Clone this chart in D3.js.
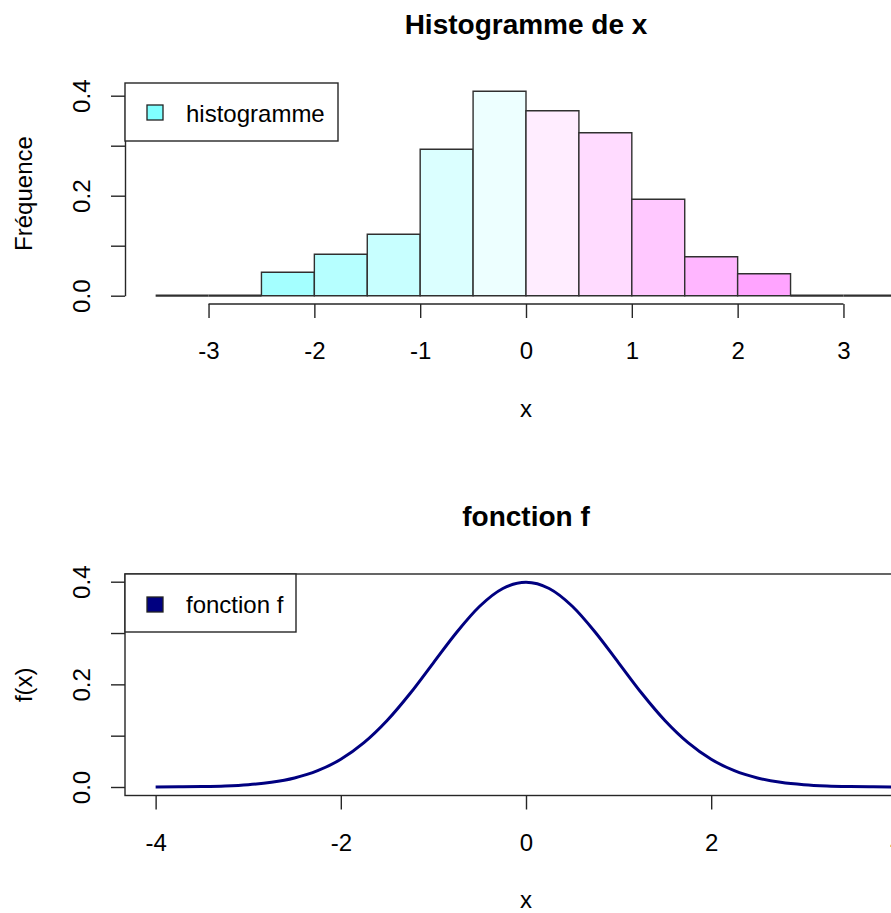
<!DOCTYPE html>
<html><head><meta charset="utf-8">
<script src="https://cdn.jsdelivr.net/npm/d3@7"></script>
<style>
body{margin:0;background:#fff}
svg{display:block}
text{font-family:"Liberation Sans",Arial,sans-serif;fill:#000}
</style>
</head><body>
<svg id="c" width="891" height="913"></svg>
<script>
// ---------- data ----------
const histBreaks  = [-3.5,-3,-2.5,-2,-1.5,-1,-0.5,0,0.5,1,1.5,2,2.5,3,3.5];
const histDensity = [0,0,0.047,0.083,0.123,0.293,0.409,0.370,0.326,0.193,0.078,0.044,0,0];
const histColors  = ["#80FFFF","#92FFFF","#A4FFFF","#B6FFFF","#C8FFFF","#DBFFFF","#EDFFFF",
                     "#FFEDFF","#FFDBFF","#FFC8FF","#FFB6FF","#FFA4FF","#FF92FF","#FF80FF"];
const histXTicks  = [-3,-2,-1,0,1,2,3];
const yTicks      = [0,0.1,0.2,0.3,0.4];
const yTickLabels = ["0.0","","0.2","","0.4"];
const fX = [-4,-3.75,-3.5,-3.25,-3,-2.75,-2.5,-2.25,-2,-1.75,-1.5,-1.25,-1,-0.75,-0.5,-0.25,
            0,0.25,0.5,0.75,1,1.25,1.5,1.75,2,2.25,2.5,2.75,3,3.25,3.5,3.75,4];
const fY = [0.0001,0.0004,0.0009,0.002,0.0044,0.0091,0.0175,0.0317,0.054,0.0863,0.1295,0.1826,0.242,0.3011,0.3521,0.3867,
            0.3989,0.3867,0.3521,0.3011,0.242,0.1826,0.1295,0.0863,0.054,0.0317,0.0175,0.0091,0.0044,0.002,0.0009,0.0004,0.0001];
const fXTicks = [-4,-2,0,2,4];
const titles = ["Histogramme de x","fonction f"];
const xLabel = "x";
const yLabels = ["Fréquence","f(x)"];
const legendLabels = ["histogramme","fonction f"];
const lineColor = "#000080";

// ---------- layout ----------
const svg = d3.select("#c");
const FONT = '"Liberation Sans",Arial,sans-serif';
const AX = "#262626";
const plotL = 126, plotR = 926, cx = (plotL+plotR)/2;

function styleAxis(g){
  g.attr("font-size",24).attr("font-family",FONT);
  g.selectAll(".tick line").attr("stroke",AX).attr("stroke-width",1.4);
  g.selectAll(".tick text").attr("fill","#000");
}

// ===== Top: histogram =====
const x1 = d3.scaleLinear().domain([-3.78,3.78]).range([plotL,plotR]);
const y1 = d3.scaleLinear().domain([0,0.4]).range([295.7,95.7]);
const top1 = 83, bot1 = 304;

const bins = histDensity.map((d,i)=>({x0:histBreaks[i],x1:histBreaks[i+1],d,c:histColors[i]}));
svg.append("g").selectAll("path").data(bins).join("path")
  .attr("d",b=>`M${x1(b.x0)},${y1(0)}V${y1(b.d)}H${x1(b.x1)}V${y1(0)}Z`)
  .attr("fill",b=>b.c)
  .attr("stroke","#303030")
  .attr("stroke-width",b=>b.d===0?2.2:1.4);

// x axis
const gx1 = svg.append("g").attr("transform",`translate(0,${bot1})`)
  .call(d3.axisBottom(x1).tickValues(histXTicks).tickSize(14).tickPadding(24).tickFormat(d=>String(d)));
gx1.select(".domain").remove();
styleAxis(gx1);
gx1.append("line").attr("x1",x1(histXTicks[0])).attr("x2",x1(histXTicks[histXTicks.length-1]))
  .attr("stroke",AX).attr("stroke-width",1.4);

// y axis
const gy1 = svg.append("g").attr("transform",`translate(125,0)`)
  .call(d3.axisLeft(y1).tickValues(yTicks).tickSize(14).tickSizeOuter(0).tickFormat((d,i)=>yTickLabels[i]));
gy1.select(".domain").attr("stroke",AX).attr("stroke-width",1.4);
styleAxis(gy1);
gy1.selectAll(".tick text").attr("transform","rotate(-90)").attr("x",0).attr("y",-35)
  .attr("dy",null).attr("text-anchor","middle");

// title & labels
svg.append("text").attr("x",cx).attr("y",34).attr("text-anchor","middle")
  .attr("font-size",28).attr("font-weight","bold").text(titles[0]);
svg.append("text").attr("x",cx).attr("y",417).attr("text-anchor","middle").attr("font-size",24).text(xLabel);
svg.append("text").attr("transform",`translate(32,${(top1+bot1)/2}) rotate(-90)`).attr("text-anchor","middle")
  .attr("font-size",24).text(yLabels[0]);

// legend
const lg1 = svg.append("g");
lg1.append("rect").attr("x",125).attr("y",top1).attr("width",213).attr("height",58)
  .attr("fill","#fff").attr("stroke",AX).attr("stroke-width",1.4);
lg1.append("rect").attr("x",147).attr("y",105).attr("width",16).attr("height",15)
  .attr("fill",histColors[0]).attr("stroke","#222").attr("stroke-width",1.3);
lg1.append("text").attr("x",186).attr("y",122).attr("font-size",24).text(legendLabels[0]);

// ===== Bottom: function =====
const x2 = d3.scaleLinear().domain([-4.32,4.32]).range([plotL,plotR]);
const y2 = d3.scaleLinear().domain([0,0.4]).range([787,581.7]);
const top2 = 574, bot2 = 795.5;

svg.append("path").datum(fX.map((v,i)=>[v,fY[i]]))
  .attr("d",d3.line().x(d=>x2(d[0])).y(d=>y2(d[1])).curve(d3.curveMonotoneX))
  .attr("fill","none").attr("stroke",lineColor).attr("stroke-width",3);

svg.append("rect").attr("x",125).attr("y",top2).attr("width",plotR-125).attr("height",bot2-top2)
  .attr("fill","none").attr("stroke",AX).attr("stroke-width",1.4);

const gx2 = svg.append("g").attr("transform",`translate(0,${bot2})`)
  .call(d3.axisBottom(x2).tickValues(fXTicks).tickSize(14).tickPadding(24).tickFormat(d=>String(d)));
gx2.select(".domain").remove();
styleAxis(gx2);

const gy2 = svg.append("g").attr("transform",`translate(125,0)`)
  .call(d3.axisLeft(y2).tickValues(yTicks).tickSize(14).tickFormat((d,i)=>yTickLabels[i]));
gy2.select(".domain").remove();
styleAxis(gy2);
gy2.selectAll(".tick text").attr("transform","rotate(-90)").attr("x",0).attr("y",-35)
  .attr("dy",null).attr("text-anchor","middle");

svg.append("text").attr("x",cx).attr("y",526).attr("text-anchor","middle")
  .attr("font-size",28).attr("font-weight","bold").text(titles[1]);
svg.append("text").attr("x",cx).attr("y",908).attr("text-anchor","middle").attr("font-size",24).text(xLabel);
svg.append("text").attr("transform",`translate(32,${(top2+bot2)/2}) rotate(-90)`).attr("text-anchor","middle")
  .attr("font-size",24).text(yLabels[1]);

const lg2 = svg.append("g");
lg2.append("rect").attr("x",125).attr("y",top2).attr("width",171).attr("height",58)
  .attr("fill","#fff").attr("stroke",AX).attr("stroke-width",1.4);
lg2.append("rect").attr("x",147).attr("y",597).attr("width",16).attr("height",15)
  .attr("fill",lineColor).attr("stroke","#222").attr("stroke-width",1.3);
lg2.append("text").attr("x",186).attr("y",613).attr("font-size",24).text(legendLabels[1]);
</script>
</body></html>
